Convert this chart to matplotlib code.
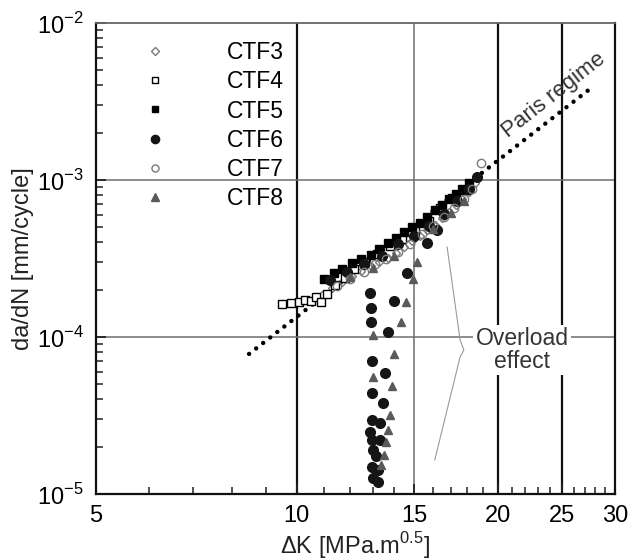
import numpy as np
import matplotlib
matplotlib.use("Agg")
import matplotlib.pyplot as plt
from matplotlib.ticker import FixedLocator, NullFormatter, LogLocator, FuncFormatter

plt.rcParams["font.family"] = ["Liberation Sans", "DejaVu Sans"]
plt.rcParams["mathtext.fontset"] = "custom"
plt.rcParams["mathtext.rm"] = "Liberation Sans"

# ---- data (dK in MPa.m^0.5, da/dN in mm/cycle) ----
ctf3_dk = [10.9, 11.3, 11.7, 12.1, 12.5, 12.9, 13.3, 13.7, 14.1, 14.5,
           14.9, 15.3, 15.7, 16.1, 16.5, 16.9, 17.3, 17.7, 18.1, 18.5]
ctf3_dadn = [1.85e-4, 2.05e-4, 2.25e-4, 2.45e-4, 2.65e-4, 2.85e-4, 3.0e-4, 3.2e-4, 3.45e-4, 3.75e-4,
             4.1e-4, 4.4e-4, 4.8e-4, 5.2e-4, 5.7e-4, 6.3e-4, 6.9e-4, 7.6e-4, 8.4e-4, 9.5e-4]

ctf4_dk = [9.5, 9.8, 10.08, 10.27, 10.5, 10.7, 10.88, 11.1, 11.4, 11.8,
           12.2, 12.66, 13.2, 13.8, 14.4, 15.05, 15.8, 16.4, 17.1, 17.8]
ctf4_dadn = [1.62e-4, 1.64e-4, 1.67e-4, 1.72e-4, 1.70e-4, 1.79e-4, 1.66e-4, 1.88e-4, 2.13e-4, 2.36e-4,
             2.7e-4, 3.0e-4, 3.4e-4, 3.8e-4, 4.2e-4, 4.7e-4, 5.5e-4, 6.6e-4, 7.7e-4, 8.6e-4]

ctf5_dk = [11.0, 11.35, 11.7, 12.1, 12.5, 12.9, 13.3, 13.7, 14.1, 14.5,
           14.9, 15.3, 15.7, 16.1, 16.5, 16.9, 17.3, 17.7, 18.1]
ctf5_dadn = [2.35e-4, 2.55e-4, 2.7e-4, 2.95e-4, 3.15e-4, 3.35e-4, 3.65e-4, 3.95e-4, 4.3e-4, 4.65e-4,
             5.0e-4, 5.35e-4, 5.8e-4, 6.4e-4, 6.9e-4, 7.6e-4, 8.2e-4, 8.8e-4, 9.6e-4]

ctf6_dk = [11.2, 11.9, 12.6, 13.4, 14.2, 15.0, 15.8, 16.6, 17.4, 18.1, 18.6,
           15.68, 16.2, 14.63,
           12.88, 12.93, 12.93, 13.7, 14.0, 12.97, 13.56, 12.97, 13.46, 12.97,
           13.33, 12.88, 12.97, 13.33, 13.01, 13.15, 12.97, 13.24, 13.01, 13.24]
ctf6_dadn = [2.3e-4, 2.6e-4, 2.9e-4, 3.3e-4, 3.9e-4, 4.4e-4, 5.1e-4, 6.1e-4, 7.3e-4, 8.8e-4, 1.05e-3,
             3.97e-4, 4.8e-4, 2.56e-4,
             1.91e-4, 1.53e-4, 1.25e-4, 1.08e-4, 1.69e-4, 7.03e-5, 5.9e-5, 4.4e-5, 3.8e-5, 2.96e-5,
             2.83e-5, 2.48e-5, 2.21e-5, 2.21e-5, 1.91e-5, 1.75e-5, 1.49e-5, 1.42e-5, 1.26e-5, 1.19e-5]

ctf7_dk = [11.5, 12.0, 12.6, 13.1, 13.6, 14.2, 14.8, 15.4, 16.0, 16.6, 17.2, 17.8, 18.3, 18.9]
ctf7_dadn = [2.1e-4, 2.35e-4, 2.6e-4, 2.9e-4, 3.15e-4, 3.5e-4, 3.9e-4, 4.5e-4, 5.1e-4, 5.8e-4,
             6.6e-4, 7.6e-4, 8.8e-4, 1.28e-3]

ctf8_dk = [12.0, 13.0, 14.0, 16.0, 17.0, 17.8, 15.15,
           14.94, 14.58, 14.33, 13.01, 14.0, 13.01, 13.9, 13.8, 13.7, 13.6, 13.5, 13.38]
ctf8_dadn = [2.4e-4, 2.75e-4, 3.3e-4, 4.9e-4, 6.2e-4, 7.4e-4, 3.0e-4,
             2.34e-4, 1.67e-4, 1.25e-4, 1.03e-4, 7.8e-5, 5.56e-5, 4.87e-5, 3.18e-5, 2.56e-5,
             2.14e-5, 1.78e-5, 1.53e-5]

paris_dk = [8.48, 27.5]
paris_dadn = [7.8e-5, 3.8e-3]

brace_dk = [16.8, 17.57, 17.8, 17.57, 16.1]
brace_dadn = [3.74e-4, 9.57e-5, 8.26e-5, 7.46e-5, 1.65e-5]

x_major = [5, 10, 15, 20, 25, 30]
x_grid = [10, 15, 20, 25]
y_grid = [1e-3, 1e-4]

# ---- figure ----
fig = plt.figure(figsize=(6.33, 5.6), dpi=100)
ax = fig.add_axes([0.1517, 0.1179, 0.82, 0.841])
ax.set_xscale("log")
ax.set_yscale("log")
ax.set_xlim(5, 30)
ax.set_ylim(1e-5, 1e-2)

# grid lines
for g in x_grid:
    dark = g != 15
    ax.axvline(g, color="#111111" if dark else "#6e6e6e", lw=1.6 if dark else 1.1, zorder=1)
for g in y_grid:
    ax.axhline(g, color="#6e6e6e", lw=1.1, zorder=1)

# Paris regime line
ax.plot(paris_dk, paris_dadn, color="black", lw=3.2, ls=(0, (0.01, 2.0)),
        dash_capstyle="round", zorder=2)

ax.plot(ctf3_dk, ctf3_dadn, ls="none", marker="D", ms=4.5, mfc="none", mec="#7a7a7a", mew=1.0,
        label="CTF3", zorder=3)
ax.plot(ctf4_dk, ctf4_dadn, ls="none", marker="s", ms=5.5, mfc="white", mec="black", mew=1.0,
        label="CTF4", zorder=3)
ax.plot(ctf5_dk, ctf5_dadn, ls="none", marker="s", ms=5.5, mfc="black", mec="black",
        label="CTF5", zorder=3)
ax.plot(ctf6_dk, ctf6_dadn, ls="none", marker="o", ms=7, mfc="#151515", mec="#151515",
        label="CTF6", zorder=3)
ax.plot(ctf7_dk, ctf7_dadn, ls="none", marker="o", ms=6, mfc="none", mec="#7a7a7a", mew=1.0,
        label="CTF7", zorder=3)
ax.plot(ctf8_dk, ctf8_dadn, ls="none", marker="^", ms=6, mfc="#5a5a5a", mec="#5a5a5a",
        label="CTF8", zorder=3)

# annotation
ax.plot(brace_dk, brace_dadn, color="#9a9a9a", lw=0.8, zorder=2)
ax.text(21.76, 8.26e-5, "Overload\neffect", ha="center", va="center", fontsize=16.5,
        color="#333333", linespacing=0.95, zorder=4,
        bbox=dict(facecolor="white", edgecolor="none", pad=1.5))
ax.text(24.3, 3.45e-3, "Paris regime", ha="center", va="center", rotation=38,
        rotation_mode="anchor", fontsize=16, color="#333333", zorder=4)

# ticks
ax.xaxis.set_major_locator(FixedLocator(x_major))
ax.xaxis.set_major_formatter(FuncFormatter(lambda v, p: "%d" % v))
ax.xaxis.set_minor_locator(FixedLocator([v for v in range(5, 31) if v not in x_major]))
ax.xaxis.set_minor_formatter(NullFormatter())
ax.yaxis.set_major_locator(LogLocator(base=10))
ax.yaxis.set_major_formatter(FuncFormatter(lambda v, p: r"$10^{%d}$" % round(np.log10(v))))
ax.yaxis.set_minor_locator(LogLocator(base=10, subs=np.arange(2, 10)))
ax.yaxis.set_minor_formatter(NullFormatter())
ax.tick_params(which="both", direction="in", top=False, right=False, labelsize=17,
               color="#222222")
ax.tick_params(which="major", length=7, width=1.3)
ax.tick_params(which="minor", length=5, width=1.1)
ax.tick_params(axis="x", pad=8)
ax.tick_params(axis="y", pad=9)

for side in ["left", "bottom", "right"]:
    ax.spines[side].set_linewidth(1.6)
    ax.spines[side].set_color("#111111")
ax.spines["top"].set_linewidth(1.3)
ax.spines["top"].set_color("#666666")

ax.set_xlabel(r"$\Delta$K [MPa.m$^{0.5}$]", fontsize=17, color="#222222", labelpad=2)
ax.set_ylabel("da/dN [mm/cycle]", fontsize=17, color="#222222", labelpad=2)

ax.legend(loc="upper left", bbox_to_anchor=(0.091, 0.962), frameon=False, fontsize=16.5,
          handlelength=1.0, handletextpad=2.65, labelspacing=0.275, borderaxespad=0,
          borderpad=0, numpoints=1, markerscale=0.85)

fig.savefig("out.png", dpi=100)
